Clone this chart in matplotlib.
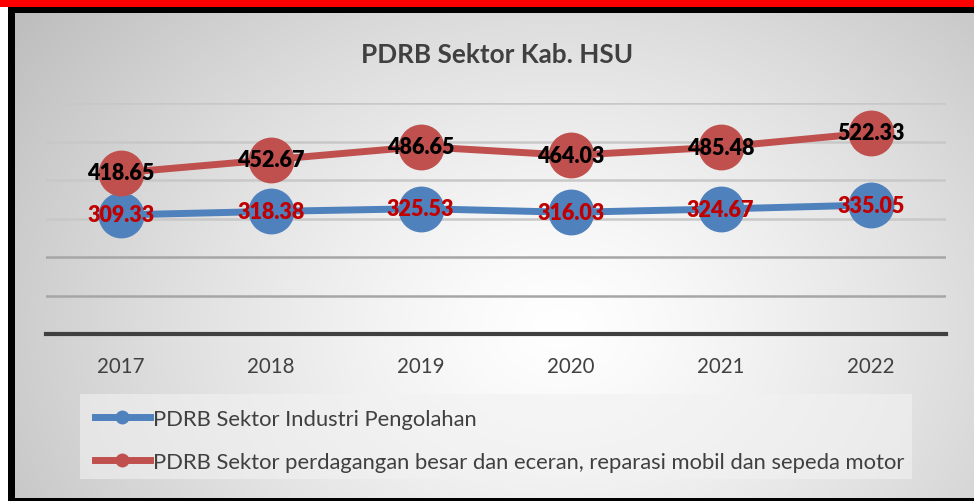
import numpy as np
import matplotlib
matplotlib.use("Agg")
import matplotlib.pyplot as plt
from matplotlib.patches import Rectangle
from matplotlib.lines import Line2D

years = ["2017", "2018", "2019", "2020", "2021", "2022"]
industri = [309.33, 318.38, 325.53, 316.03, 324.67, 335.05]
perdagangan = [418.65, 452.67, 486.65, 464.03, 485.48, 522.33]
series_names = ["PDRB Sektor Industri Pengolahan",
                "PDRB Sektor perdagangan besar dan eceran, reparasi mobil dan sepeda motor"]
title = "PDRB Sektor Kab. HSU"

W, H = 974, 502
fig = plt.figure(figsize=(W / 100, H / 100), dpi=100)
fig.patch.set_facecolor("white")

def fx(px):
    return px / W

def fy(py):
    return 1 - py / H

# frame: red top bar, black frame (drawn in an underlay axes)
frame = fig.add_axes([0, 0, 1, 1], zorder=-3)
frame.set_xlim(0, W)
frame.set_ylim(H, 0)
frame.set_axis_off()
frame.add_patch(Rectangle((0, 0), W, 7.5, facecolor="#ff0000", edgecolor="none"))
frame.add_patch(Rectangle((8, 7.5), W - 8, H - 7.5, facecolor="#000000", edgecolor="none"))

# gradient background
bg = fig.add_axes([fx(15), fy(499), 1 - fx(15), (499 - 14) / H], zorder=-2)
gx = np.linspace(15, 974, 400)
gy = np.linspace(14, 499, 200)
GX, GY = np.meshgrid(gx, gy)
d = np.sqrt(((GX - 560) / 1.0) ** 2 + ((GY - 330) * 1.3) ** 2)
d = d / d.max()
val = 1.0 - 0.26 * d ** 1.3
bg.imshow(np.dstack([val, val, val]), aspect="auto", extent=[15, 974, 499, 14],
          interpolation="bilinear")
bg.set_xlim(15, 974)
bg.set_ylim(499, 14)
bg.set_axis_off()
# legend area box
bg.add_patch(Rectangle((80, 395), 832, 85, facecolor="#f2f2f2", alpha=0.6,
                       edgecolor="none"))

# main plot
ax = fig.add_axes([fx(45.7), fy(335), 900 / W, (335 - 104) / H], zorder=2)
ax.set_facecolor("none")
x = np.arange(len(years))
ax.set_xlim(-0.5, len(years) - 0.5)
ax.set_ylim(0, 600)
ax.set_yticks(np.arange(0, 601, 100))
ax.yaxis.grid(True, color="#a6a6a6", lw=1.8)
for tick_val, gl in zip(ax.get_yticks(), ax.get_ygridlines()):
    if tick_val >= 300:
        gl.set_color("#c8c8c8")
ax.set_axisbelow(True)
for s in ["top", "right", "left"]:
    ax.spines[s].set_visible(False)
ax.spines["bottom"].set_color("#404040")
ax.spines["bottom"].set_linewidth(3)
ax.tick_params(axis="y", left=False, labelleft=False)
ax.tick_params(axis="x", length=0, pad=16, labelsize=14.8, labelcolor="#404040")
ax.set_xticks(x)
ax.set_xticklabels(years, fontfamily="Lato")

blue = "#4f81bd"
red = "#c0504d"
ax.plot(x, industri, color=blue, lw=5, marker="o", markersize=32, zorder=3)
ax.plot(x, perdagangan, color=red, lw=5, marker="o", markersize=32, zorder=3)
for xi, v in zip(x, industri):
    ax.text(xi, v, f"{v:.2f}", ha="center", va="center", color="#c00000",
            fontsize=15.5, fontweight="heavy", fontfamily="Lato", zorder=5)
for xi, v in zip(x, perdagangan):
    ax.text(xi, v, f"{v:.2f}", ha="center", va="center", color="#000000",
            fontsize=15.5, fontweight="heavy", fontfamily="Lato", zorder=5)

fig.text(fx(497), fy(55), title, ha="center", va="center", fontsize=18.8,
         fontweight="bold", color="#404040", fontfamily="Lato")

handles = [Line2D([], [], color=blue, lw=5, marker="o", markersize=9),
           Line2D([], [], color=red, lw=5, marker="o", markersize=9)]
leg = fig.legend(handles, series_names, loc="upper left",
                 bbox_to_anchor=(fx(86), fy(401)), frameon=False,
                 labelcolor="#404040", handlelength=2.5,
                 handletextpad=0.15, labelspacing=1.05, borderaxespad=0,
                 prop={"family": "Lato", "size": 15.8})

fig.savefig("out.png", dpi=100)
